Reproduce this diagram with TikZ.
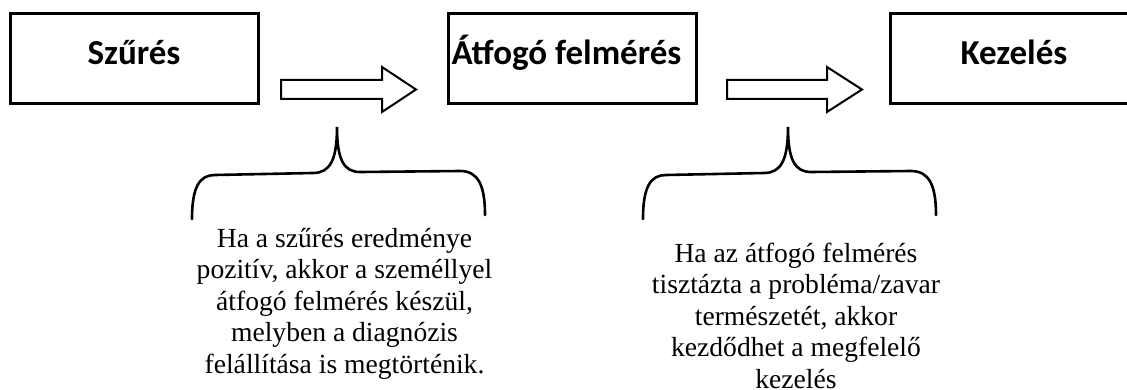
\documentclass[tikz,border=0pt]{standalone}
\usepackage{fontspec}
\setmainfont{Liberation Serif}
\newfontfamily\boxfont{Carlito}
\begin{document}
\begin{tikzpicture}[x=1pt,y=-1pt,
  stagebox/.style={draw,line width=3pt,minimum width=248pt,minimum height=90pt,
    inner sep=0pt,text height=24pt,text depth=12pt,font=\boxfont\bfseries\fontsize{35}{40}\selectfont},
  blockarrow/.style={draw,line width=2pt,line join=miter},
  bracepath/.style={draw,line width=2.6pt,line cap=round},
  note/.style={align=center,inner sep=0pt,font=\fontsize{27.6}{31.5}\selectfont}]
\useasboundingbox (0,0) rectangle (1127,390);
\clip (0,0) rectangle (1127,390);
\node[stagebox] (b1) at (134,59) {Szűrés};
\node[stagebox] (b2) at (572.5,59) {\hspace*{-12pt}Átfogó felmérés};
\node[stagebox] (b3) at (1014,59) {Kezelés};
\path[blockarrow] (281,80) -- (382,80) -- (382,67) -- (416,89.5) -- (382,112) -- (382,99) -- (281,99) -- cycle;
\path[blockarrow] (727,80) -- (827,80) -- (827,67) -- (862,89.5) -- (827,112) -- (827,99) -- (727,99) -- cycle;
\path[bracepath] (192,219) .. controls (192,186) and (200,175) .. (215,175) -- (313,173)
  .. controls (330,173) and (337,160) .. (337,127)
  .. controls (337,160) and (344,172) .. (360,172) -- (460,171)
  .. controls (478,171) and (485,185) .. (485,215);
\path[bracepath] (643,219) .. controls (643,186) and (651,175) .. (666,175) -- (764,173)
  .. controls (781,173) and (788,160) .. (788,127)
  .. controls (788,160) and (795,172) .. (811,172) -- (911,171)
  .. controls (929,171) and (936,185) .. (936,215);
\node[note,anchor=base] (t1) at (344.5,373) {Ha a szűrés eredménye\\pozitív, akkor a személlyel\\átfogó felmérés készül,\\melyben a diagnózis\\felállítása is megtörténik.};
\node[note,anchor=base] (t2) at (796,388) {Ha az átfogó felmérés\\tisztázta a probléma/zavar\\természetét, akkor\\kezdődhet a megfelelő\\kezelés};
\end{tikzpicture}
\end{document}
